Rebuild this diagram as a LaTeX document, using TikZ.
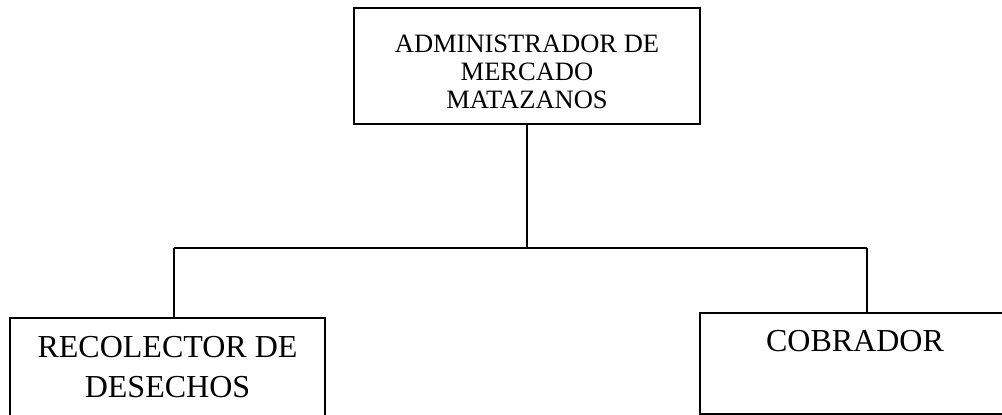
\documentclass[tikz,border=0pt]{standalone}
\usepackage{fontspec}
\setmainfont{Liberation Serif}
\usetikzlibrary{positioning}
\tikzset{
  orgbox/.style={rectangle,draw,line width=1.5pt,align=center},
  topbox/.style={orgbox,minimum width=346pt,minimum height=116pt,text height=86pt,
    font=\fontsize{26.5}{28}\selectfont},
  lowbox/.style={orgbox,anchor=north,inner ysep=19pt,
    font=\fontsize{32}{40}\selectfont}
}

\begin{document}
\begin{tikzpicture}[x=1pt,y=-1pt,line width=1.5pt]
        % page frame, the lower boxes run off the edge
        \useasboundingbox (0,0) rectangle (1002,415);
        \clip (0,0) rectangle (1002,415);
        \node[topbox] (adm) at (527,66) {ADMINISTRADOR DE\\MERCADO\\MATAZANOS};
        \node[lowbox,minimum width=315pt] (rec) at (167.5,317) {RECOLECTOR DE\\DESECHOS};
        \node[lowbox,minimum width=310pt,inner ysep=18pt,text depth=44pt] (cob) at (855,312) {COBRADOR};
        \coordinate (bus) at (527,248);
        \coordinate (busL) at (174,248);
        \coordinate (busR) at (867,248);
        \draw (adm) -- (bus);
        \draw (busL) -- (busR);
        \draw (busL) -- (busL |- rec.north);
        \draw (busR) -- (busR |- cob.north);
      \end{tikzpicture}
\end{document}
